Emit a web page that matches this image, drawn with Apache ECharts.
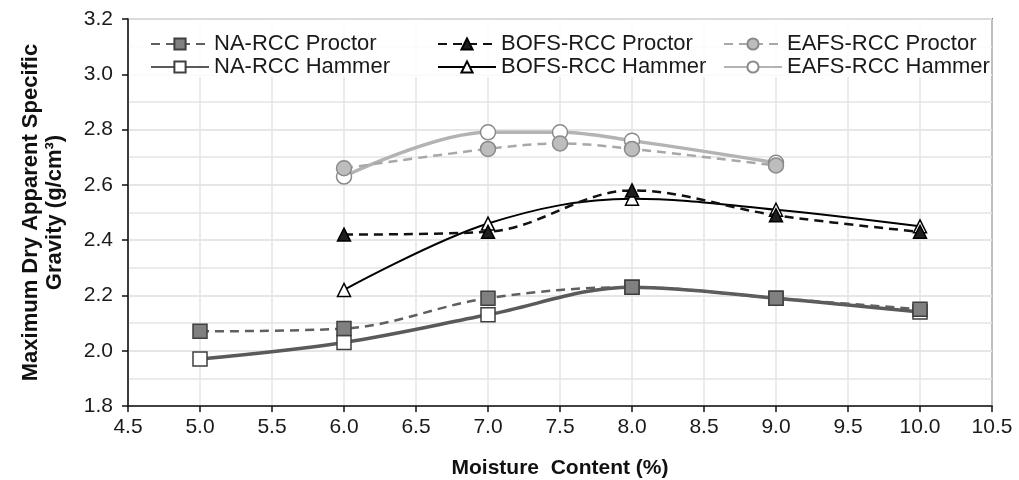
<!DOCTYPE html>
<html>
<head>
<meta charset="utf-8">
<script src="https://cdn.jsdelivr.net/npm/echarts@6/dist/echarts.min.js"></script>
<style>
  html, body { margin: 0; padding: 0; background: #fff; }
  #chart { width: 1019px; height: 480px; }
</style>
</head>
<body>
<div id="chart"></div>
<script>
// moisture content (%) per mix
var moistureNA = [5.0, 6.0, 7.0, 8.0, 9.0, 10.0];
var moistureBOFS = [6.0, 7.0, 8.0, 9.0, 10.0];
var moistureEAFS = [6.0, 7.0, 7.5, 8.0, 9.0];

// maximum dry apparent specific gravity (g/cm3)
var naProctor = [2.07, 2.08, 2.19, 2.23, 2.19, 2.15];
var naHammer = [1.97, 2.03, 2.13, 2.23, 2.19, 2.14];
var bofsProctor = [2.42, 2.43, 2.58, 2.49, 2.43];
var bofsHammer = [2.22, 2.46, 2.55, 2.51, 2.45];
var eafsProctor = [2.66, 2.73, 2.75, 2.73, 2.67];
var eafsHammer = [2.63, 2.79, 2.79, 2.76, 2.68];

var seriesNames = ['NA-RCC Proctor', 'BOFS-RCC Proctor', 'EAFS-RCC Proctor',
                   'NA-RCC Hammer', 'BOFS-RCC Hammer', 'EAFS-RCC Hammer'];

var FONT = '"Liberation Sans", Arial, sans-serif';

function pairs(xs, ys) {
    return xs.map(function (x, i) { return [x, ys[i]]; });
}

function makeSeries(name, xs, ys, opt) {
    return {
        name: name,
        type: 'line',
        smooth: 0.35,
        data: pairs(xs, ys),
        symbol: opt.symbol,
        symbolSize: opt.size,
        showAllSymbol: true,
        z: opt.z,
        lineStyle: { color: opt.line, width: opt.width, type: opt.dash ? [9, 6] : 'solid' },
        itemStyle: { color: opt.fill, borderColor: opt.border, borderWidth: 1.5 },
        emphasis: { disabled: true }
    };
}

// legend slots: column x, row y
var legendLeft = [150, 437, 723];
var legendTop = [33, 56];

var legends = seriesNames.map(function (name, i) {
    return {
        data: [name],
        left: legendLeft[i % 3],
        top: legendTop[Math.floor(i / 3)],
        padding: 0,
        itemWidth: 58,
        itemHeight: 14,
        itemGap: 0,
        selectedMode: false,
        textStyle: { fontFamily: FONT, fontSize: 22, color: '#1a1a1a' }
    };
});

var chart = echarts.init(document.getElementById('chart'));
var option = {
    animation: false,
    textStyle: { fontFamily: FONT },
    legend: legends,
    grid: {
        left: 128, right: 27, top: 19, bottom: 74,
        outerBoundsMode: 'none',
        containLabel: false,
        show: true, borderColor: '#111', borderWidth: 1.5, backgroundColor: 'transparent'
    },
    graphic: [{
        type: 'rect',
        z: 1,
        shape: { x: 129, y: 20, width: 862, height: 57 },
        style: { fill: 'rgba(255,255,255,0.85)' }
    }],
    xAxis: {
        type: 'value',
        min: 4.5, max: 10.5, interval: 0.5,
        name: 'Moisture  Content (%)',
        nameLocation: 'middle',
        nameGap: 52,
        nameTextStyle: { fontFamily: FONT, fontSize: 21, fontWeight: 'bold', color: '#111' },
        axisLine: { lineStyle: { color: '#111', width: 1.5 } },
        axisTick: { show: true, length: 6, lineStyle: { color: '#111', width: 1.5 } },
        axisLabel: {
            fontFamily: FONT, fontSize: 21, color: '#1a1a1a', margin: 11,
            formatter: function (v) { return v.toFixed(1); }
        },
        splitLine: { show: true, lineStyle: { color: '#e4e4e4', width: 1.5 } }
    },
    yAxis: [{
        type: 'value',
        min: 1.8, max: 3.2, interval: 0.2,
        name: 'Maximum Dry Apparent Specific\nGravity (g/cm³)',
        nameLocation: 'middle',
        nameRotate: 90,
        nameGap: 61,
        nameTextStyle: { fontFamily: FONT, fontSize: 22, fontWeight: 'bold', color: '#111', lineHeight: 24 },
        axisLine: { show: true, lineStyle: { color: '#111', width: 1.5 } },
        axisTick: { show: true, length: 6, lineStyle: { color: '#111', width: 1.5 } },
        axisLabel: {
            fontFamily: FONT, fontSize: 21, color: '#1a1a1a', margin: 15,
            formatter: function (v) { return v.toFixed(1); }
        },
        splitLine: { show: true, lineStyle: { color: '#e4e4e4', width: 1.5 } }
    }, {
        type: 'value',
        min: 1.8, max: 3.2, interval: 0.1,
        axisLine: { show: false },
        axisTick: { show: false },
        axisLabel: { show: false },
        splitLine: { show: true, lineStyle: { color: '#e4e4e4', width: 1.5 } }
    }],
    series: [
        makeSeries('NA-RCC Proctor', moistureNA, naProctor,
            { symbol: 'rect', size: 14, line: '#5f5f5f', width: 2.5, dash: true, fill: '#808080', border: '#3f3f3f', z: 3 }),
        makeSeries('BOFS-RCC Proctor', moistureBOFS, bofsProctor,
            { symbol: 'triangle', size: 13, line: '#111', width: 2.5, dash: true, fill: '#1e1e1e', border: '#000', z: 3 }),
        makeSeries('EAFS-RCC Proctor', moistureEAFS, eafsProctor,
            { symbol: 'circle', size: 15, line: '#a8a8a8', width: 2.5, dash: true, fill: '#bdbdbd', border: '#8a8a8a', z: 3 }),
        makeSeries('NA-RCC Hammer', moistureNA, naHammer,
            { symbol: 'rect', size: 14, line: '#5a5a5a', width: 3.5, dash: false, fill: '#fff', border: '#3f3f3f', z: 2 }),
        makeSeries('BOFS-RCC Hammer', moistureBOFS, bofsHammer,
            { symbol: 'triangle', size: 13, line: '#000', width: 2, dash: false, fill: '#fff', border: '#000', z: 2 }),
        makeSeries('EAFS-RCC Hammer', moistureEAFS, eafsHammer,
            { symbol: 'circle', size: 15, line: '#b3b3b3', width: 3.5, dash: false, fill: '#fff', border: '#8a8a8a', z: 2 })
    ]
};
option && chart.setOption(option);
</script>
</body>
</html>
